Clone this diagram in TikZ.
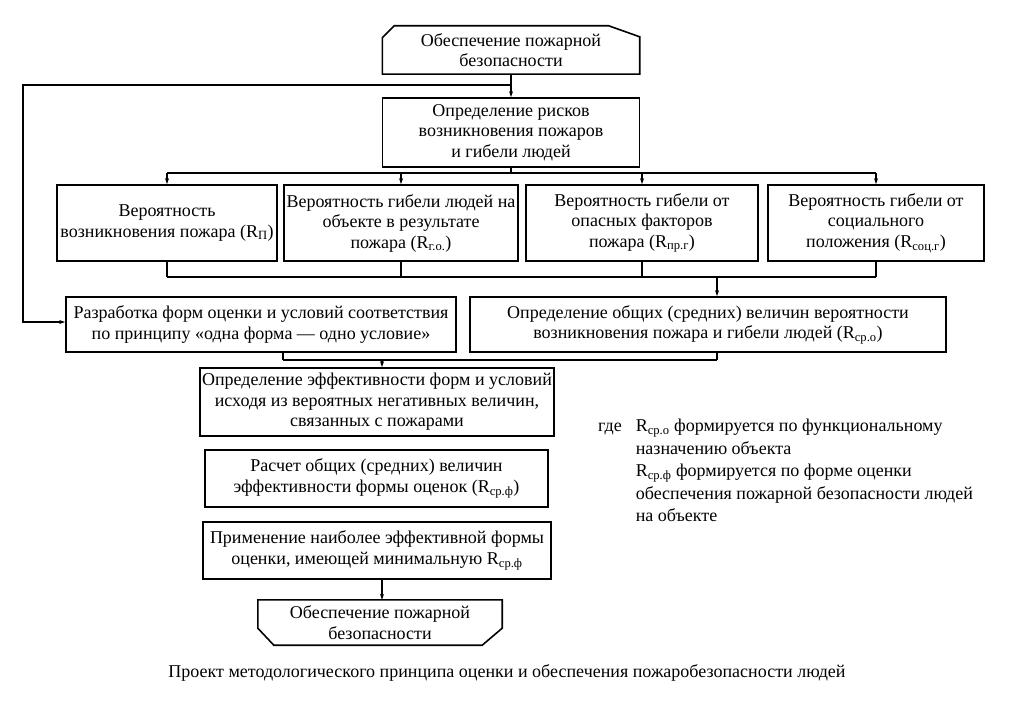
\documentclass[tikz,border=0pt]{standalone}
\usepackage{fontspec}
\setmainfont{Liberation Serif}
\usetikzlibrary{arrows.meta,calc}
\newcommand\bxfont{\fontsize{18}{20.5}\selectfont}
\begin{document}
\begin{tikzpicture}[x=1pt,y=-1pt,
  box/.style={draw, line width=1.6pt, inner sep=2pt, align=center, font=\bxfont},
  plain/.style={inner sep=2pt, align=center, font=\bxfont},
  boxline/.style={line width=1.6pt, line join=miter},
  conn/.style={line width=1.1pt},
  arr/.style={line width=1.1pt, -{Stealth[length=6pt,width=4pt]}}]
\useasboundingbox (0,0) rectangle (1009,714);
\fill[white] (0,0) rectangle (1009,714);

% top chamfered box
\node[plain, minimum width=257pt, minimum height=48pt] (top) at (511,50) {Обеспечение пожарной\\безопасности};
\draw[boxline] (top.south west) -- ($(top.north west)+(0,12)$) -- ($(top.north west)+(12,0)$)
  -- ($(top.north east)+(-31,0)$) -- ($(top.north east)+(0,11)$) -- (top.south east) -- cycle;

\node[box, minimum width=257pt, minimum height=69pt] (risk) at (511,132.5) {Определение рисков\\возникновения пожаров\\и гибели людей};

\node[box, minimum width=220pt, minimum height=76pt] (ra) at (167,223) {Вероятность\\возникновения пожара (R\textsubscript{П})};
\node[box, minimum width=234pt, minimum height=76pt] (rb) at (401,223) {Вероятность гибели людей на\\объекте в результате\\пожара (R\textsubscript{г.о.})};
\node[box, minimum width=232pt, minimum height=76pt] (rc) at (642,223) {Вероятность гибели от\\опасных факторов\\пожара (R\textsubscript{пр.г})};
\node[box, minimum width=216pt, minimum height=76pt] (rd) at (876,223) {Вероятность гибели от\\социального\\положения (R\textsubscript{соц.г})};

\node[box, minimum width=390pt, minimum height=55pt] (razr) at (261,324.5) {Разработка форм оценки и условий соответствия\\по принципу «одна форма — одно условие»};
\node[box, minimum width=476pt, minimum height=55pt] (obsh) at (708,324.5) {Определение общих (средних) величин вероятности\\возникновения пожара и гибели людей (R\textsubscript{ср.о})};

\node[box, minimum width=348pt, minimum height=68pt] (eff) at (377,402) {Определение эффективности форм и условий\\исходя из вероятных негативных величин,\\связанных с пожарами};
\node[box, minimum width=343pt, minimum height=57pt] (rasch) at (376.5,478.5) {Расчет общих (средних) величин\\эффективности формы оценок (R\textsubscript{ср.ф})};
\node[box, minimum width=348pt, minimum height=57pt] (prim) at (377,550.5) {Применение наиболее эффективной формы\\оценки, имеющей минимальную R\textsubscript{ср.ф}};

% bottom chamfered box
\node[plain, minimum width=244pt, minimum height=45pt] (bot) at (380,622.5) {Обеспечение пожарной\\безопасности};
\draw[boxline] (bot.north west) -- ($(bot.south west)+(0,-17)$) -- ($(bot.south west)+(16,0)$)
  -- ($(bot.south east)+(-20,0)$) -- ($(bot.south east)+(0,-17)$) -- (bot.north east) -- cycle;

% note
\node[anchor=north west, inner sep=0pt, font=\bxfont] (note) at (598,416) {\fontsize{18}{22.5}\selectfont
\begin{tabular}{@{}l@{\hspace{14pt}}l@{}}
где & R\textsubscript{ср.о} формируется по функциональному\\
 & назначению объекта\\
 & R\textsubscript{ср.ф} формируется по форме оценки\\
 & обеспечения пожарной безопасности людей\\
 & на объекте
\end{tabular}};

% caption
\node[inner sep=0pt, font=\bxfont] (cap) at (507,673) {Проект методологического принципа оценки и обеспечения пожаробезопасности людей};

% connectors
\coordinate (L1) at (23,85);
\coordinate (L2) at (23,322);
\draw[arr] (top.south) -- (risk.north);
\draw[arr] (top.south |- L1) -- (L1) -- (L2) -- (razr.west |- L2);

\coordinate (D) at (0,173);
\draw[conn] (risk.south) -- (risk.south |- D);
\draw[conn] (ra.north |- D) -- (rd.north |- D);
\foreach \n in {ra,rb,rc,rd} \draw[arr] (\n.north |- D) -- (\n.north);

\coordinate (C) at (0,277);
\foreach \n in {ra,rb,rc,rd} \draw[conn] (\n.south) -- (\n.south |- C);
\draw[conn] (ra.south |- C) -- (rd.south |- C);
\coordinate (c1) at (717,277);
\draw[arr] (c1) -- (c1 |- obsh.north);

\coordinate (M) at (0,360);
\coordinate (m1) at (283,360);
\coordinate (m2) at (382,360);
\draw[conn] (m1 |- razr.south) -- (m1);
\draw[conn] (c1 |- obsh.south) -- (c1 |- M);
\draw[conn] (m1) -- (c1 |- M);
\draw[arr] (m2) -- (m2 |- eff.north);
\draw[arr] (prim.south -| m2) -- (bot.north -| m2);
\end{tikzpicture}
\end{document}
